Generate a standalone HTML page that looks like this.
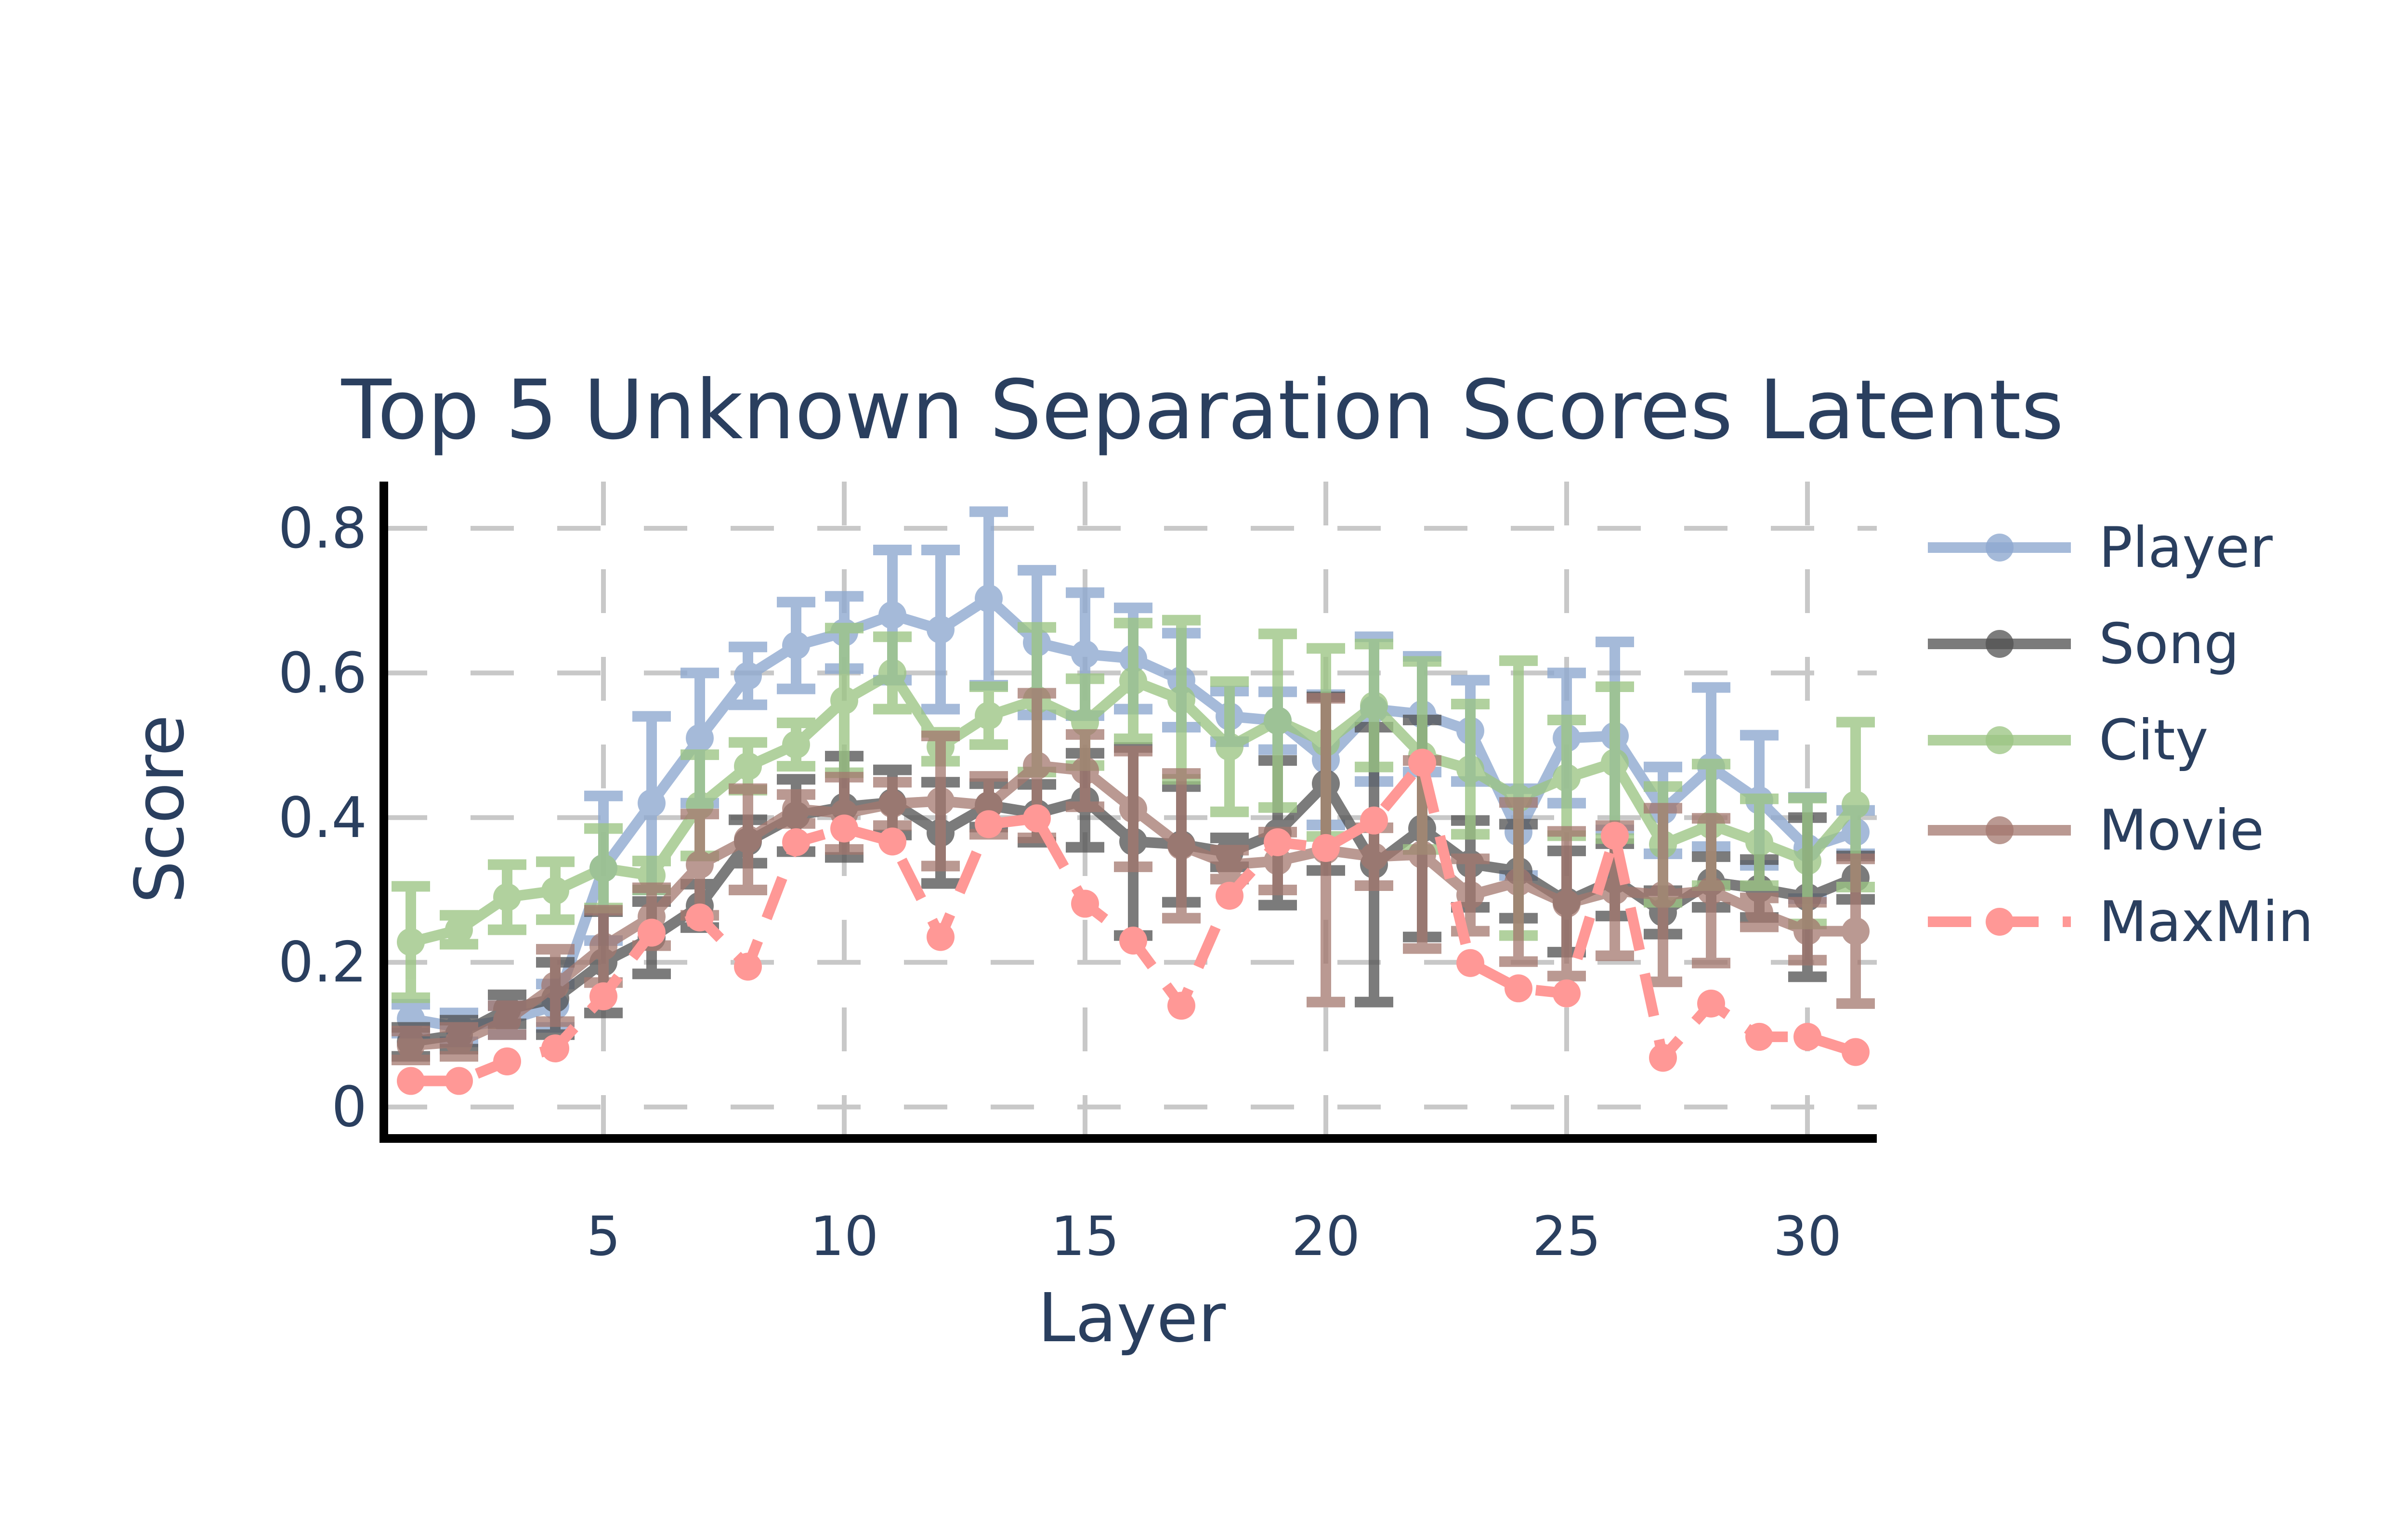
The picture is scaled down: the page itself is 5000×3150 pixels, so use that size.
<!DOCTYPE html>
<html><head><meta charset="utf-8">
<style>
html,body{margin:0;padding:0;background:#fff;}
svg{display:block;font-family:"DejaVu Sans","Liberation Sans",sans-serif;}
</style></head>
<body>
<svg id="chart" width="5000" height="3150" viewBox="0 0 5000 3150" xmlns="http://www.w3.org/2000/svg">
<rect width="5000" height="3150" fill="#fff"/>
<text x="2497" y="910" font-size="170" fill="#2a3f5f" text-anchor="middle">Top 5 Unknown Separation Scores Latents</text>
<g id="grid"></g>
<g id="series"></g>
<g id="axes"></g>
<text x="2350" y="2785" font-size="140" fill="#2a3f5f" text-anchor="middle">Layer</text>
<text x="0" y="0" font-size="140" fill="#2a3f5f" text-anchor="middle" transform="translate(380,1680) rotate(-90)">Score</text>
<g id="legend"></g>
</svg>
<script>
const layers = Array.from({length:31},(_,i)=>i+1);
const xTicks = [5,10,15,20,25,30];
const yTicks = [0,0.2,0.4,0.6,0.8];
const yTickLabels = ["0","0.2","0.4","0.6","0.8"];
const seriesNames = ["Player","Song","City","Movie","MaxMin"];
const playerVals = [0.122,0.11,0.12,0.14,0.33,0.42,0.51,0.596,0.638,0.656,0.68,0.66,0.703,0.642,0.626,0.62,0.59,0.54,0.534,0.48,0.55,0.543,0.52,0.38,0.51,0.513,0.41,0.47,0.424,0.358,0.38];
const playerErr = [0.02,0.02,0.02,0.03,0.1,0.12,0.09,0.04,0.06,0.05,0.09,0.11,0.12,0.1,0.085,0.07,0.065,0.035,0.04,0.09,0.1,0.08,0.07,0.06,0.09,0.13,0.06,0.11,0.09,0.07,0.03];
const songVals = [0.09,0.1,0.135,0.15,0.2,0.234,0.278,0.367,0.403,0.415,0.421,0.379,0.417,0.406,0.424,0.367,0.363,0.352,0.379,0.447,0.335,0.385,0.336,0.326,0.284,0.314,0.269,0.311,0.302,0.29,0.317];
const songErr = [0.02,0.02,0.02,0.05,0.07,0.05,0.03,0.03,0.05,0.07,0.045,0.07,0.03,0.04,0.065,0.13,0.08,0.02,0.1,0.12,0.19,0.15,0.06,0.065,0.07,0.05,0.03,0.035,0.04,0.11,0.03];
const cityVals = [0.228,0.245,0.29,0.299,0.33,0.32,0.417,0.471,0.501,0.562,0.6,0.498,0.541,0.563,0.532,0.589,0.563,0.498,0.534,0.504,0.555,0.486,0.467,0.427,0.455,0.476,0.363,0.39,0.366,0.34,0.418];
const cityErr = [0.077,0.02,0.045,0.04,0.055,0.02,0.07,0.033,0.03,0.1,0.05,0.02,0.04,0.1,0.06,0.08,0.11,0.09,0.12,0.13,0.085,0.13,0.09,0.19,0.08,0.105,0.08,0.084,0.06,0.087,0.114];
const movieVals = [0.085,0.09,0.12,0.168,0.222,0.263,0.335,0.37,0.412,0.406,0.419,0.423,0.417,0.472,0.465,0.412,0.361,0.335,0.34,0.355,0.346,0.349,0.293,0.311,0.281,0.299,0.293,0.299,0.269,0.243,0.243];
const movieErr = [0.02,0.02,0.02,0.05,0.05,0.04,0.07,0.07,0.02,0.05,0.03,0.09,0.04,0.1,0.05,0.08,0.1,0.02,0.04,0.21,0.04,0.13,0.05,0.11,0.1,0.09,0.12,0.1,0.02,0.04,0.1];
const maxminVals = [0.036,0.036,0.063,0.081,0.153,0.241,0.262,0.194,0.366,0.385,0.367,0.235,0.391,0.399,0.281,0.23,0.14,0.292,0.366,0.358,0.396,0.476,0.199,0.164,0.157,0.375,0.068,0.143,0.097,0.097,0.076];

const NS="http://www.w3.org/2000/svg";
const X0=797, X1=3897, Y0=1000, Y1=2364;
function xs(l){return 853+100*(l-1);}
function ys(v){return 1097+(0.8-v)*1502;}
function mk(tag,attrs,parent){const e=document.createElementNS(NS,tag);for(const k in attrs)e.setAttribute(k,attrs[k]);parent.appendChild(e);return e;}

const grid=document.getElementById('grid');
xTicks.forEach(t=>{
  const l=mk('line',{x1:xs(t),x2:xs(t),y1:Y0,y2:Y1,stroke:'#c8c8c8','stroke-width':10,'stroke-dasharray':'91,91'},grid);
  
  
});
yTicks.forEach(t=>{
  const l=mk('line',{x1:X0,x2:X1,y1:ys(t),y2:ys(t),stroke:'#c8c8c8','stroke-width':10,'stroke-dasharray':'90,90'},grid);
  
  
});

const axes=document.getElementById('axes');
const ax=mk('line',{x1:X0,x2:X1,y1:Y1,y2:Y1,stroke:'#000','stroke-width':18},axes);


const ay=mk('line',{x1:X0,x2:X0,y1:Y0,y2:Y1+9,stroke:'#000','stroke-width':18},axes);


xTicks.forEach(t=>{
  const tx=mk('text',{x:xs(t),y:2606,'font-size':112,fill:'#2a3f5f','text-anchor':'middle'},axes);
  tx.textContent=String(t);
  
  
});
yTicks.forEach((t,i)=>{
  const tx=mk('text',{x:762,y:ys(t)+40,'font-size':116,fill:'#2a3f5f','text-anchor':'end'},axes);
  tx.textContent=yTickLabels[i];
  
  
});

const cfg=[
  {vals:playerVals,err:playerErr,color:'#8fa9d0',op:0.8,dash:null,name:'player'},
  {vals:songVals,err:songErr,color:'#505050',op:0.75,dash:null,name:'song'},
  {vals:cityVals,err:cityErr,color:'#9cc584',op:0.78,dash:null,name:'city'},
  {vals:movieVals,err:movieErr,color:'#a3776e',op:0.75,dash:null,name:'movie'},
  {vals:maxminVals,err:null,color:'#ff9896',op:1,dash:'90,50',name:'maxmin'}
];
const sg=document.getElementById('series');
cfg.forEach(c=>{
  const g=mk('g',{opacity:c.op},sg);
  
  
  if(c.err){
    c.vals.forEach((v,i)=>{
      const x=xs(layers[i]),e=c.err[i];
      const eb=mk('path',{d:`M${x},${ys(v-e)}V${ys(v+e)}M${x-40},${ys(v-e)}H${x+40}M${x-40},${ys(v+e)}H${x+40}`,stroke:c.color,'stroke-width':22,fill:'none'},g);
      
      
    });
  }
  const d=c.vals.map((v,i)=>(i?'L':'M')+xs(layers[i])+','+ys(v)).join('');
  const attrs={d:d,stroke:c.color,'stroke-width':22,fill:'none','stroke-linejoin':'round'};
  if(c.dash)attrs['stroke-dasharray']=c.dash;
  const ln=mk('path',attrs,g);
  
  
  c.vals.forEach((v,i)=>{
    const p=mk('circle',{cx:xs(layers[i]),cy:ys(v),r:29,fill:c.color},g);
    
    
  });
});

const lg=document.getElementById('legend');
const legY=[1137,1337,1537,1724,1914];
cfg.forEach((c,i)=>{
  const g=mk('g',{},lg);
  
  
  const la={x1:4003,x2:4300,y1:legY[i],y2:legY[i],stroke:c.color,'stroke-width':22,opacity:c.op};
  if(c.dash)la['stroke-dasharray']='90,50';
  const l=mk('line',la,g);
  
  
  const m=mk('circle',{cx:4152,cy:legY[i],r:29,fill:c.color,opacity:c.op},g);
  
  
  const t=mk('text',{x:4358,y:legY[i]+40,'font-size':116,fill:'#2a3f5f'},g);
  t.textContent=seriesNames[i];
  
  
});
</script>
</body></html>
